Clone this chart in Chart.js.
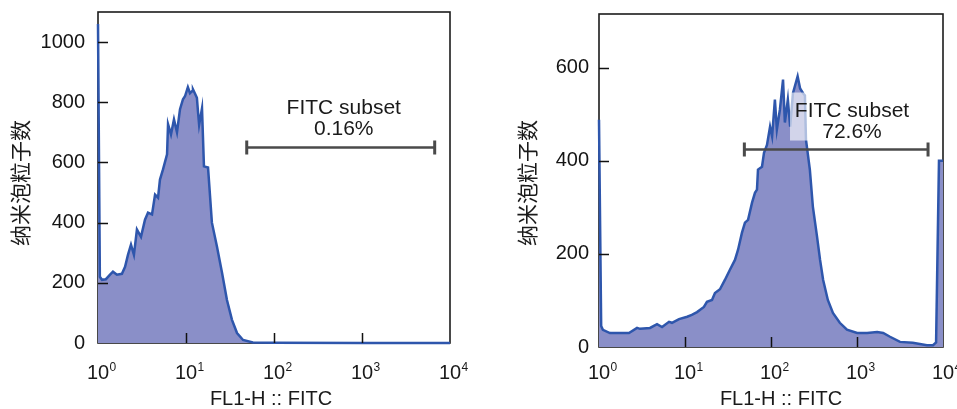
<!DOCTYPE html>
<html>
<head>
<meta charset="utf-8">
<script src="https://cdn.jsdelivr.net/npm/chart.js@4.4.1/dist/chart.umd.min.js"></script>
<style>
  html, body { margin: 0; padding: 0; background: #fff; }
  #wrap { position: relative; width: 957px; height: 409px; overflow: hidden; }
  #leftBox { position: absolute; left: 0; top: 0; width: 480px; height: 409px; }
  #rightBox { position: absolute; left: 480px; top: 0; width: 477px; height: 409px; }
</style>
</head>
<body>
<div id="wrap">
  <div id="leftBox"><canvas id="leftChart" width="480" height="409"></canvas></div>
  <div id="rightBox"><canvas id="rightChart" width="477" height="409"></canvas></div>
</div>
<script>
// ---------- data ----------
const xTitle = 'FL1-H :: FITC';
const yTitle = '纳米泡粒子数';
const gateName = 'FITC subset';
const xTickValues = [1, 10, 100, 1000, 10000];
const xTickBase = ['10', '10', '10', '10', '10'];
const xTickExponents = ['0', '1', '2', '3', '4'];

const leftYTicks = [0, 200, 400, 600, 800, 1000];
const rightYTicks = [0, 200, 400, 600];

const gateRange = [49, 6700];
const leftGateLevel = 650;
const rightGateLevel = 424;
const leftPercent = '0.16%';
const rightPercent = '72.6%';
const leftLabelAt = 620;
const rightLabelAt = 875;

// left panel histogram (FL1 value, count)
const leftX = [1.0, 1.05, 1.11, 1.23, 1.37, 1.48, 1.64, 1.87, 2.03, 2.19, 2.37, 2.56, 2.77, 3.08, 3.42, 3.70,
  4.11, 4.45, 4.81, 5.06, 5.48, 6.09, 6.25, 6.75, 7.30, 7.90, 8.55, 9.24, 9.74, 10.5, 11.1, 11.7, 12.0,
  12.6, 13.3, 13.7, 14.1, 15.2, 16.0, 17.8, 19.7, 22.5, 25.7, 29.2, 33.3, 38.0, 44.5, 57.6, 100, 1000, 10000];
const leftY = [1060, 220, 210, 212, 227, 237, 227, 230, 253, 293, 327, 293, 377, 353, 410, 433,
  427, 493, 483, 543, 577, 627, 727, 693, 743, 700, 777, 810, 820, 850, 830, 837, 843,
  830, 815, 767, 725, 780, 587, 583, 400, 320, 233, 143, 77, 33, 10, 2, 1, 0, 0];

// right panel histogram (FL1 value, count)
const rightX = [1.0, 1.06, 1.11, 1.34, 1.75, 2.23, 2.77, 3.0, 3.92, 4.73, 5.41, 6.52, 7.06, 8.52, 10.6, 12.0,
  13.8, 16.6, 18.0, 20.6, 22.3, 25.5, 29.1, 33.3, 38.1, 41.4, 45.9, 49.8, 54.1, 60.2, 65.1, 68.7, 70.6,
  78.6, 82.9, 89.8, 97.5, 103, 111, 117, 127, 138, 145, 157, 167, 180, 204, 218, 236, 248, 255, 283,
  307, 343, 372, 404, 458, 525, 631, 764, 1004, 1311, 1714, 2017, 2420, 3162, 4448, 6510, 7650, 8310,
  8980, 10000];
const rightY = [488, 45, 37, 30, 30, 30, 41, 39, 41, 49, 43, 54, 52, 60, 65, 69,
  75, 86, 97, 101, 116, 124, 144, 166, 187, 209, 245, 267, 273, 310, 331, 338, 381,
  387, 417, 434, 473, 452, 531, 467, 510, 574, 482, 531, 473, 545, 581, 555, 545, 540, 445, 381,
  301, 237, 187, 144, 101, 73, 52, 37, 30, 30, 32, 30, 22, 11, 9, 4, 4, 10,
  400, 400];

// ---------- drawing ----------
const FONT = '"Liberation Sans", Arial, Helvetica, sans-serif';
const CJK = '"Noto Sans CJK SC", "Noto Sans CJK JP", sans-serif';

const panelPlugin = {
  id: 'panel',
  beforeDatasetsDraw(chart) {
    const { ctx, chartArea: a } = chart;
    ctx.save();
    ctx.strokeStyle = '#1c1c1c';
    ctx.lineWidth = 1.6;
    ctx.strokeRect(a.left, a.top, a.right - a.left, a.bottom - a.top);
    ctx.restore();
  },
  afterDatasetsDraw(chart, args, o) {
    const { ctx, chartArea: a } = chart;
    const xs = chart.scales.x, ys = chart.scales.y;
    ctx.save();
    // inward tick marks
    ctx.strokeStyle = '#111';
    ctx.lineWidth = 1.5;
    ctx.beginPath();
    xTickValues.slice(1, -1).forEach(v => {
      const px = Math.round(xs.getPixelForValue(v)) + 0.5;
      ctx.moveTo(px, a.bottom);
      ctx.lineTo(px, a.bottom - 10);
    });
    o.yTicks.forEach(v => {
      if (v === 0) return;
      const py = Math.round(ys.getPixelForValue(v)) + 0.5;
      ctx.moveTo(a.left, py);
      ctx.lineTo(a.left + 10, py);
    });
    ctx.stroke();

    // gate annotation
    const gy = ys.getPixelForValue(o.gateLevel);
    const cx = xs.getPixelForValue(o.labelAt);
    if (o.box) {
      ctx.fillStyle = 'rgba(255,255,255,0.62)';
      ctx.fillRect(cx - 62, gy - 57, 124, 48);
    }
    const x1 = xs.getPixelForValue(gateRange[0]);
    const x2 = xs.getPixelForValue(gateRange[1]);
    ctx.strokeStyle = '#4a4a4a';
    ctx.lineWidth = 2.5;
    ctx.beginPath();
    ctx.moveTo(x1, gy); ctx.lineTo(x2, gy);
    ctx.stroke();
    ctx.lineWidth = 3;
    ctx.beginPath();
    ctx.moveTo(x1, gy - 7); ctx.lineTo(x1, gy + 7);
    ctx.moveTo(x2, gy - 7); ctx.lineTo(x2, gy + 7);
    ctx.stroke();

    ctx.fillStyle = '#1a1a1a';
    ctx.textAlign = 'center';
    ctx.textBaseline = 'alphabetic';
    ctx.font = '21px ' + FONT;
    ctx.fillText(gateName, cx, gy - 33);
    ctx.fillText(o.percent, cx, gy - 12);

    // x tick labels with superscripts
    xTickValues.forEach((v, i) => {
      const px = xs.getPixelForValue(v);
      ctx.font = '20px ' + FONT;
      ctx.textAlign = 'center';
      ctx.fillText(xTickBase[i], px, 379);
      const w = ctx.measureText(xTickBase[i]).width;
      ctx.font = '12px ' + FONT;
      ctx.textAlign = 'left';
      ctx.fillText(xTickExponents[i], px + w / 2 + 0.5, 371);
    });

    // x axis title
    ctx.font = '20px ' + FONT;
    ctx.textAlign = 'center';
    ctx.fillText(xTitle, (a.left + a.right) / 2 + o.xTitleDx, 405);

    // y axis title
    ctx.translate(o.yTitleX, 183);
    ctx.rotate(-Math.PI / 2);
    ctx.textBaseline = 'middle';
    ctx.font = '21px ' + CJK;
    ctx.fillText(yTitle, 0, 0);
    ctx.restore();
  }
};

function makeChart(id, xs, ys, cfg) {
  const pts = xs.map((x, i) => ({ x: x, y: ys[i] }));
  return new Chart(document.getElementById(id), {
    type: 'line',
    data: {
      datasets: [{
        data: pts,
        fill: 'origin',
        backgroundColor: '#8a8fc8',
        borderColor: '#2e56ac',
        borderWidth: 2.5,
        pointRadius: 0,
        tension: 0,
        clip: 3
      }]
    },
    options: {
      responsive: false,
      animation: false,
      events: [],
      layout: { padding: { top: cfg.padTop, right: cfg.padRight, left: 0, bottom: 0 } },
      scales: {
        x: {
          type: 'logarithmic',
          min: 1, max: 10000,
          grid: { display: false, drawTicks: false },
          border: { display: false },
          ticks: { display: false },
          afterFit: s => { s.height = cfg.xHeight; s.paddingLeft = 0; s.paddingRight = 0; }
        },
        y: {
          min: 0, max: cfg.yMax,
          grid: { display: false, drawTicks: false },
          border: { display: false },
          ticks: {
            color: '#141414',
            padding: cfg.tickPad,
            font: { family: FONT, size: 20 },
            callback: v => String(v)
          },
          afterBuildTicks: s => { s.ticks = cfg.yTicks.map(v => ({ value: v })); },
          afterFit: s => { s.width = cfg.yWidth; s.paddingTop = 0; s.paddingBottom = 0; }
        }
      },
      plugins: {
        legend: { display: false },
        tooltip: { enabled: false },
        panel: {
          yTicks: cfg.yTicks,
          gateLevel: cfg.gateLevel,
          labelAt: cfg.labelAt,
          percent: cfg.percent,
          box: cfg.box,
          xTitleDx: cfg.xTitleDx,
          yTitleX: cfg.yTitleX
        }
      }
    },
    plugins: [panelPlugin]
  });
}

makeChart('leftChart', leftX, leftY, {
  padTop: 12, padRight: 30, xHeight: 66, yWidth: 98, yMax: 1100, tickPad: 13,
  yTicks: leftYTicks, gateLevel: leftGateLevel, labelAt: leftLabelAt, percent: leftPercent,
  box: false, xTitleDx: -3, yTitleX: 20
});
makeChart('rightChart', rightX, rightY, {
  padTop: 14, padRight: 14, xHeight: 62, yWidth: 119, yMax: 715, tickPad: 10,
  yTicks: rightYTicks, gateLevel: rightGateLevel, labelAt: rightLabelAt, percent: rightPercent,
  box: true, xTitleDx: 10, yTitleX: 47
});
</script>
</body>
</html>
